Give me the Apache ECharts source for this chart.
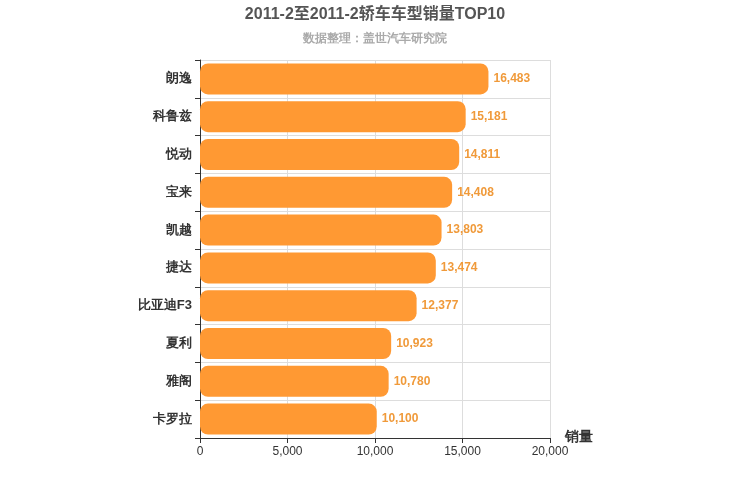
<!DOCTYPE html>
<html><head><meta charset="utf-8">
<script src="https://cdn.jsdelivr.net/npm/echarts@6/dist/echarts.min.js"></script>
<style>html,body{margin:0;padding:0}#c{width:750px;height:500px}</style>
</head><body><div id="c"></div>
<script>
const categories = ['朗逸','科鲁兹','悦动','宝来','凯越','捷达','比亚迪F3','夏利','雅阁','卡罗拉'];
const values = [16483,15181,14811,14408,13803,13474,12377,10923,10780,10100];
const chart = echarts.init(document.getElementById('c'));
chart.setOption({
  backgroundColor:'#fff',
  title:{text:'2011-2至2011-2轿车车型销量TOP10',subtext:'数据整理：盖世汽车研究院',left:'center',top:2,
    textStyle:{fontSize:16,fontWeight:'bold',color:'#555',fontFamily:'Liberation Sans, Noto Sans CJK SC'},
    subtextStyle:{fontSize:12,color:'#aaa',fontWeight:'bold'},itemGap:10},
  grid:{left:200,right:200,top:60,bottom:62},
  xAxis:{type:'value',min:0,max:20000,interval:5000,name:'销量',nameGap:15,
    nameTextStyle:{fontSize:14,fontWeight:'bold',color:'#333',verticalAlign:'top',padding:[-8,0,0,0]},
    axisLine:{show:true,lineStyle:{color:'#333'}},axisTick:{show:true},
    axisLabel:{color:'#333',fontSize:12},splitLine:{lineStyle:{color:'#ddd'}}},
  yAxis:{type:'category',data:categories,inverse:true,
    axisLine:{lineStyle:{color:'#333'}},axisTick:{show:true},
    axisLabel:{color:'#333',fontSize:13,fontWeight:'bold'},
    splitLine:{show:true,lineStyle:{color:'#ddd'}}},
  series:[{type:'bar',data:values,barWidth:'82%',
    itemStyle:{color:'#ff9933',borderRadius:8},
    label:{show:true,position:'right',color:'#f09a3a',fontSize:12,fontWeight:'bold',
      formatter:p=>p.value.toLocaleString('en-US')}}]
});
</script></body></html>
